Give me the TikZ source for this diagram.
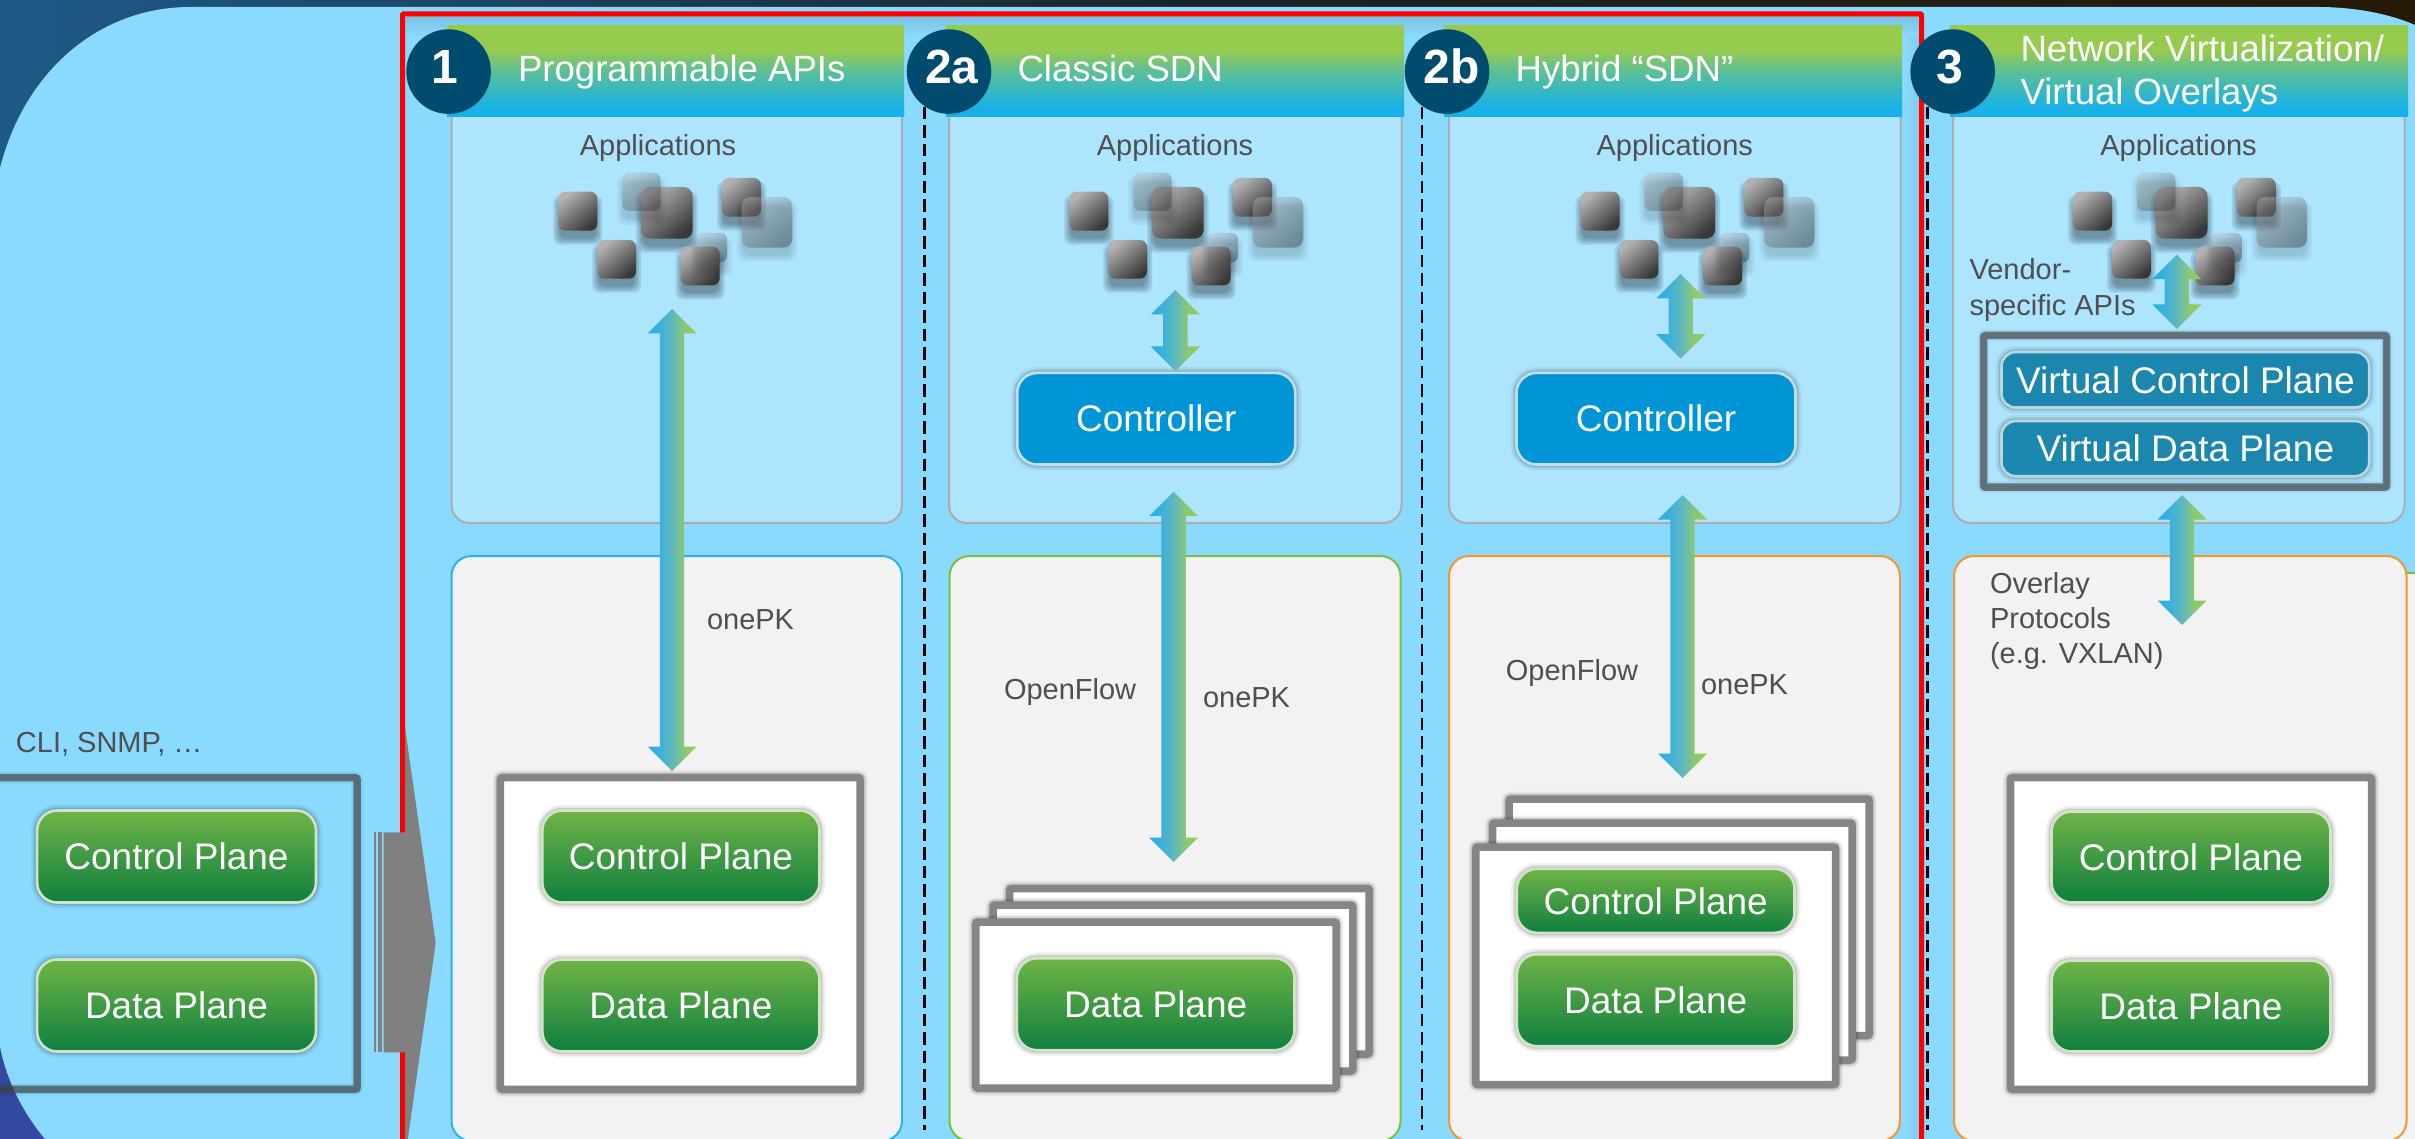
\documentclass[tikz,border=0pt]{standalone}
\usepackage{fontspec}
\setmainfont{Liberation Sans}
\usetikzlibrary{calc}
\definecolor{bodyblue}{HTML}{8ADAFF}
\definecolor{upblue}{HTML}{ADE5FF}
\definecolor{lowgray}{HTML}{F2F2F2}
\definecolor{hgreen}{HTML}{97CB4E}
\definecolor{hblue}{HTML}{13B0EF}
\definecolor{circ}{HTML}{004B6E}
\definecolor{labelgray}{HTML}{4F4F4F}
\definecolor{gtop}{HTML}{6FB446}
\definecolor{gbot}{HTML}{0F7F40}
\definecolor{ctrl}{HTML}{0095D6}
\definecolor{virt}{HTML}{1C87AE}
\definecolor{ablue}{HTML}{22AEEA}
\definecolor{agreen}{HTML}{98CB4C}
\definecolor{ashaftl}{HTML}{3DB0DB}
\definecolor{ashaftm}{HTML}{5FB8BE}
\definecolor{ashaftr}{HTML}{8CC870}
\definecolor{bgleft}{RGB}{30,90,136}
\definecolor{bgmid}{RGB}{26,36,40}
\definecolor{bgright}{RGB}{38,25,6}
\definecolor{bgcorner}{RGB}{52,72,160}
\pgfdeclareverticalshading{hdrshade}{100bp}{color(0bp)=(hblue); color(25bp)=(hblue); color(32bp)=(hblue!92!hgreen); color(50bp)=(hblue!45!hgreen); color(62bp)=(hgreen); color(75bp)=(hgreen); color(100bp)=(hgreen)}
\pgfdeclarehorizontalshading{arrshade}{100bp}{color(0bp)=(ablue); color(25bp)=(ablue); color(37.5bp)=(ashaftl); color(50bp)=(ashaftm); color(62.5bp)=(ashaftr); color(75bp)=(agreen); color(100bp)=(agreen)}
\tikzset{
 x=1pt,y=-1pt,
 lbl/.style={inner sep=0pt,outer sep=0pt,text=labelgray,font=\fontsize{29}{34}\selectfont,anchor=base west},
 lblc/.style={lbl,anchor=base},
 hdrtxt/.style={inner sep=0pt,outer sep=0pt,text=white,font=\fontsize{36.6}{43.6}\selectfont,anchor=base west},
 numtxt/.style={inner sep=0pt,outer sep=0pt,text=white,font=\bfseries\fontsize{48}{54}\selectfont,anchor=base},
 hdr/.style={shading=hdrshade,inner sep=0pt,outer sep=0pt},
 numc/.style={circle,fill=circ,minimum size=84.6pt,inner sep=0pt,outer sep=0pt},
 upanel/.style={draw=black!32,line width=2pt,fill=upblue,rounded corners=18pt,inner sep=0pt,outer sep=0pt},
 lpanel/.style={line width=2pt,fill=lowgray,rounded corners=20pt,inner sep=0pt,outer sep=0pt},
 glowbox/.style={preaction={draw=black,draw opacity=.05,line width=12pt},preaction={draw=black,draw opacity=.07,line width=8pt},preaction={draw=black,draw opacity=.1,line width=5pt}},
 glowframe/.style={preaction={draw=black,draw opacity=.05,line width=15pt},preaction={draw=black,draw opacity=.07,line width=12pt},preaction={draw=black,draw opacity=.1,line width=9.5pt}},
 gbox/.style={glowbox,draw=black!8!gtop!30!white,line width=2.6pt,top color=gtop,bottom color=gbot,rounded corners=20pt,text=white,inner sep=0pt,outer sep=0pt,font=\fontsize{37}{44}\selectfont},
 cbox/.style={glowbox,draw=black!15!ctrl!25!white,line width=2.6pt,fill=ctrl,rounded corners=20pt,text=white,inner sep=0pt,outer sep=0pt,font=\fontsize{37}{44}\selectfont},
 vbox/.style={glowbox,draw=black!12!virt!30!white,line width=2.6pt,fill=virt,rounded corners=14pt,text=white,inner sep=0pt,outer sep=0pt,font=\fontsize{37}{44}\selectfont},
 wframe/.style={glowframe,draw=black!48,line width=7.5pt,fill=white,rounded corners=2pt,inner sep=0pt,outer sep=0pt},
 oframe/.style={draw=black!72,draw opacity=.62,line width=7.5pt,rounded corners=2pt,inner sep=0pt,outer sep=0pt},
 arrowshade/.style={shading=arrshade},
 divider/.style={draw=black,line width=2.6pt,dash pattern=on 12.5pt off 6pt},
}
\newcommand{\bx}[7]{%
 \pgfmathsetmacro\bxw{#5-#3}\pgfmathsetmacro\bxh{#6-#4}%
 \pgfmathsetmacro\bxcx{(#3+#5)/2}\pgfmathsetmacro\bxcy{(#4+#6)/2}%
 \node[#2,minimum width=\bxw pt,minimum height=\bxh pt] (#1) at (\bxcx,\bxcy) {#7};}
\newcommand{\dblarrow}[2]{%
 \path[arrowshade] (#1) -- ++(24.5,24.5) -- ++(-12.3,0) -- ($(#2)+(12.2,-24.5)$) -- ++(12.3,0) -- (#2) -- ++(-24.5,-24.5) -- ++(12.3,0) -- ($(#1)+(-12.2,24.5)$) -- ++(-12.3,0) -- cycle;}
% x1 y1 x2 y2 radius opacity
\newcommand{\appsq}[6]{%
 \foreach \g in {-1,1,3,5}{%
  \fill[black,fill opacity=.1*#6,rounded corners=#5pt] (#1-\g,#2+9-\g) rectangle (#3+\g,#4+9+\g);}
 \path[top color=black!30,bottom color=black!78,shading angle=40,rounded corners=#5pt,opacity=#6] (#1,#2) rectangle (#3,#4);}
\newcommand{\appcluster}[1]{%
 \begin{scope}[xshift=#1pt]
 \appsq{558.3}{191.7}{597.3}{230.7}{7}{1}
 \appsq{597.3}{240}{636}{278.7}{7}{1}
 \appsq{641}{187}{692.7}{238.7}{9}{1}
 \appsq{680.7}{246.7}{719.7}{285.3}{7}{1}
 \appsq{722}{178}{761}{216.7}{7}{1}
 \appsq{622}{172.7}{660.7}{211}{7}{.4}
 \appsq{696.7}{233}{727}{262.3}{6}{.4}
 \appsq{741.7}{197}{792.3}{247.7}{9}{.4}
 \end{scope}}
\begin{document}
\begin{tikzpicture}
\useasboundingbox (0,0) rectangle (2415,1139);
\begin{scope}
\clip (0,0) rectangle (2415,1139);
% backdrop
\shade[left color=bgleft,right color=bgmid] (0,0) rectangle (1200,1139);
\shade[left color=bgmid,right color=bgright] (1200,0) rectangle (2415,1139);
\shade[top color=bgleft,bottom color=bgcorner] (0,150) rectangle (60,1139);
\fill[bodyblue] (190,7) -- (2318,7) .. controls (2355,7) and (2390,14) .. (2415,25) -- (2415,1139) -- (45,1139) .. controls (25,1115) and (8,1085) .. (0,1047) -- (0,168) .. controls (25,70) and (100,7) .. (190,7) -- cycle;
% shade inside the red frame
\shade[top color=black!12!bodyblue,bottom color=bodyblue] (405,16) rectangle (1919,36);
\shade[left color=bodyblue,right color=black!6!bodyblue] (1904,36) rectangle (1919,1139);
% red frame
\bx{redframe}{draw=red,line width=5pt,inner sep=0pt,outer sep=0pt,rounded corners=1pt}{402.5}{14}{1921.5}{1170}{}
% panels
\bx{up1}{upanel}{451.5}{90}{902}{523}{}
\bx{up2a}{upanel}{949}{90}{1401.5}{523}{}
\bx{up2b}{upanel}{1449}{90}{1900.5}{523}{}
\bx{up3}{upanel}{1953}{90}{2404.5}{523}{}
\bx{low1}{lpanel,draw={rgb,255:red,43;green,177;blue,240}}{451.5}{556}{902}{1141}{}
\bx{low2a}{lpanel,draw={rgb,255:red,122;green,191;blue,63}}{949.5}{556}{1400.5}{1141}{}
\bx{low2b}{lpanel,draw={rgb,255:red,243;green,150;blue,50}}{1449}{556}{1900}{1141}{}
\bx{lowx}{lpanel,draw={rgb,255:red,122;green,191;blue,63}}{2385}{573}{2470}{1141}{}
\bx{low3}{lpanel,draw={rgb,255:red,243;green,150;blue,50}}{1954}{556}{2406.5}{1141}{}
% dividers
\coordinate (d1t) at (924.3,107); \coordinate (d1b) at (924.3,1130);
\coordinate (d2t) at (1422,107); \coordinate (d2b) at (1422,1130);
\coordinate (d3t) at (1927.5,107); \coordinate (d3b) at (1927.5,1130);
\draw[divider] (d1t) -- (d1b);
\draw[divider] (d2t) -- (d2b);
\draw[divider] (d3t) -- (d3b);
% headers
\bx{h1}{hdr}{447}{26}{904}{117}{}
\bx{h2a}{hdr}{946}{26}{1404}{117}{}
\bx{h2b}{hdr}{1444}{26}{1902}{117}{}
\bx{h3}{hdr}{1950}{26}{2408}{117}{}
\node[numc] (c1) at (448.6,71.6) {};
\node[numc] (c2a) at (949,71.6) {};
\node[numc] (c2b) at (1447,71.6) {};
\node[numc] (c3) at (1952.7,71.6) {};
\node[numtxt] (n1) at (445,84) {1};
\node[numtxt] (n2a) at (951.8,84) {2a};
\node[numtxt] (n2b) at (1451.4,84) {2b};
\node[numtxt] (n3) at (1950,84) {3};
\node[hdrtxt] (t1) at (518,81.5) {Programmable APIs};
\node[hdrtxt] (t2a) at (1017.5,81.5) {Classic SDN};
\node[hdrtxt] (t2b) at (1515.7,81.5) {Hybrid “SDN”};
\node[hdrtxt,align=left] (t3) at (2020.5,105) {Network Virtualization/\\Virtual Overlays};
% applications
\node[lblc] (a1) at (658,155.7) {Applications};
\node[lblc] (a2a) at (1175,155.7) {Applications};
\node[lblc] (a2b) at (1674.8,155.7) {Applications};
\node[lblc] (a3) at (2178.5,155.7) {Applications};
\appcluster{0}
\appcluster{511}
\appcluster{1022.4}
\appcluster{1514.8}
% labels
\node[lbl] (cli) at (16,752) {CLI, SNMP, …};
\node[lbl] (onepk1) at (707,629) {onePK};
\node[lbl] (onepk2) at (1203,707.7) {onePK};
\node[lbl] (onepk3) at (1701,694) {onePK};
\node[lbl] (of2) at (1004,699.3) {OpenFlow};
\node[lbl] (of3) at (1505.9,680) {OpenFlow};
\node[lbl,align=left,font=\fontsize{29}{35.8}\selectfont] (vend) at (1969.6,315.7) {Vendor-\\specific APIs};
\node[lbl,align=left,font=\fontsize{29}{34.7}\selectfont] (over) at (1990,663.3) {Overlay\\Protocols\\(e.g. VXLAN)};
% controllers
\bx{ctl2a}{cbox}{1017.2}{372.9}{1295.3}{464.5}{Controller}
\bx{ctl2b}{cbox}{1516.5}{372.9}{1795.5}{464.5}{Controller}
% virtual planes
\bx{vframe}{oframe,glowbox}{1983.5}{335.5}{2386.7}{487.2}{}
\bx{vcp}{vbox}{2001.5}{352.1}{2369.2}{407.5}{Virtual Control Plane}
\bx{vdp}{vbox}{2001.5}{421.1}{2369.2}{476.2}{Virtual Data Plane}
% frames
\bx{fleft}{oframe,glowbox}{-40}{777.7}{357.2}{1089.3}{}
\bx{f1}{wframe}{500.4}{777.7}{860.2}{1089.3}{}
\bx{f2c}{wframe}{1009.7}{888.5}{1369.2}{1054}{}
\bx{f2b}{wframe}{993}{905}{1352.8}{1071}{}
\bx{f2a}{wframe}{975.8}{922}{1336.2}{1088}{}
\bx{f3c}{wframe}{1509}{799}{1869.2}{1035.5}{}
\bx{f3b}{wframe}{1492.5}{823}{1852.2}{1060}{}
\bx{f3a}{wframe}{1475.8}{847}{1835.6}{1084.6}{}
\bx{f4}{wframe}{2010.5}{777.7}{2371.5}{1089.3}{}
% planes
\bx{cp0}{gbox}{37.1}{810.5}{316}{902.5}{Control Plane}
\bx{dp0}{gbox}{37.1}{959.5}{316}{1051.5}{Data Plane}
\bx{cp1}{gbox}{542.3}{810.5}{819.5}{902.5}{Control Plane}
\bx{dp1}{gbox}{542.3}{959.5}{819.5}{1051.5}{Data Plane}
\bx{dp2}{gbox}{1016.9}{958.2}{1294.5}{1050.2}{Data Plane}
\bx{cp3}{gbox}{1516.9}{868.8}{1794.5}{932.8}{Control Plane}
\bx{dp3}{gbox}{1516.9}{954.2}{1794.5}{1046.2}{Data Plane}
\bx{cp4}{gbox}{2051.5}{811.5}{2330.5}{902.5}{Control Plane}
\bx{dp4}{gbox}{2051.5}{960.5}{2330.5}{1051.5}{Data Plane}
% double arrows
\coordinate (ar1t) at (672,309); \coordinate (ar1b) at (672,771);
\coordinate (ar2t) at (1175.4,290); \coordinate (ar2b) at (1175.4,371);
\coordinate (ar3t) at (1173.6,491.7); \coordinate (ar3b) at (1173.6,862);
\coordinate (ar4t) at (1680.7,274); \coordinate (ar4b) at (1680.7,358.6);
\coordinate (ar5t) at (1682.5,495); \coordinate (ar5b) at (1682.5,778);
\coordinate (ar6t) at (2176.8,254.6); \coordinate (ar6b) at (2176.8,329);
\coordinate (ar7t) at (2182,495); \coordinate (ar7b) at (2182,625);
\dblarrow{ar1t}{ar1b}
\dblarrow{ar2t}{ar2b}
\dblarrow{ar3t}{ar3b}
\dblarrow{ar4t}{ar4b}
\dblarrow{ar5t}{ar5b}
\dblarrow{ar6t}{ar6b}
\dblarrow{ar7t}{ar7b}
% grey transition arrow
\fill[black!50] (374,832.3) rectangle (376,1052.3);
\fill[black!50] (378,832.3) rectangle (382,1052.3);
\fill[black!50] (383.5,832.3) -- (405,832.3) -- (405,727) -- (435.7,943) -- (405,1159) -- (405,1052.3) -- (383.5,1052.3) -- cycle;
\end{scope}
\end{tikzpicture}
\end{document}
